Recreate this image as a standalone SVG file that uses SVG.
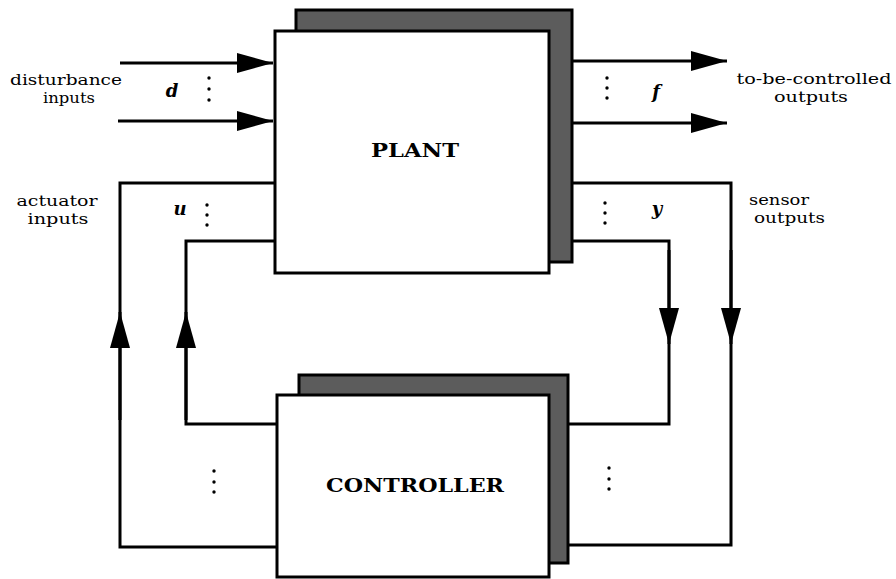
<svg xmlns="http://www.w3.org/2000/svg" width="896" height="579" viewBox="0 0 896 579">
<defs>
<style>
.ln{fill:none;stroke:#000;stroke-width:3}
.box{fill:#fff;stroke:#000;stroke-width:3}
.sh{fill:#5c5c5c;stroke:#000;stroke-width:3}
.lbl{font-family:"DejaVu Serif","Liberation Serif",serif;font-size:15px;fill:#000}
.big{font-family:"DejaVu Serif","Liberation Serif",serif;font-size:19px;font-weight:bold;fill:#000}
.var{font-family:"DejaVu Serif","Liberation Serif",serif;font-size:18px;font-style:italic;font-weight:bold;fill:#000}
.dot{fill:#000}
</style>
<marker id="ah" viewBox="0 0 36 20" refX="36" refY="10" markerWidth="36" markerHeight="20" markerUnits="userSpaceOnUse" orient="auto">
<path d="M0,0 L36,10 L0,20 Z" fill="#000"/>
</marker>
</defs>
<rect width="896" height="579" fill="#fff"/>
<g id="connectors">
<path class="ln" d="M120,63 H273" marker-end="url(#ah)"/>
<path class="ln" d="M118,121 H273" marker-end="url(#ah)"/>
<path class="ln" d="M572,61 H727" marker-end="url(#ah)"/>
<path class="ln" d="M572,123 H727" marker-end="url(#ah)"/>
<path class="ln" d="M275,183 H120 V547 H277"/>
<path class="ln" d="M120,420 V312" marker-end="url(#ah)"/>
<path class="ln" d="M275,241 H186 V424 H277"/>
<path class="ln" d="M186,420 V312" marker-end="url(#ah)"/>
<path class="ln" d="M572,183 H731 V545 H568"/>
<path class="ln" d="M731,250 V344" marker-end="url(#ah)"/>
<path class="ln" d="M572,241 H669 V424 H568"/>
<path class="ln" d="M669,250 V344" marker-end="url(#ah)"/>
</g>
<g id="plant">
<rect class="sh" x="296" y="10" width="276" height="252"/>
<rect class="box" x="275" y="31" width="274" height="242"/>
<text class="big" x="415" y="157" text-anchor="middle" textLength="88" lengthAdjust="spacingAndGlyphs">PLANT</text>
</g>
<g id="controller">
<rect class="sh" x="299" y="375" width="269" height="188"/>
<rect class="box" x="277" y="395" width="272" height="182"/>
<text class="big" x="415" y="492" text-anchor="middle" textLength="178" lengthAdjust="spacingAndGlyphs">CONTROLLER</text>
</g>
<g id="labels">
<text class="lbl" x="66" y="85" text-anchor="middle" textLength="112" lengthAdjust="spacingAndGlyphs">disturbance</text>
<text class="lbl" x="69" y="103" text-anchor="middle" textLength="52" lengthAdjust="spacingAndGlyphs">inputs</text>
<text class="lbl" x="57" y="206" text-anchor="middle" textLength="81" lengthAdjust="spacingAndGlyphs">actuator</text>
<text class="lbl" x="58" y="224" text-anchor="middle" textLength="61" lengthAdjust="spacingAndGlyphs">inputs</text>
<text class="lbl" x="814" y="84" text-anchor="middle" textLength="155" lengthAdjust="spacingAndGlyphs">to-be-controlled</text>
<text class="lbl" x="811" y="102" text-anchor="middle" textLength="74" lengthAdjust="spacingAndGlyphs">outputs</text>
<text class="lbl" x="749" y="205" textLength="60" lengthAdjust="spacingAndGlyphs">sensor</text>
<text class="lbl" x="754" y="223" textLength="71" lengthAdjust="spacingAndGlyphs">outputs</text>
<text class="var" x="172" y="97" text-anchor="middle">d</text>
<text class="var" x="180" y="215" text-anchor="middle">u</text>
<text class="var" x="656" y="98" text-anchor="middle">f</text>
<text class="var" x="657" y="215" text-anchor="middle">y</text>
</g>
<g id="dots">
<circle class="dot" cx="209" cy="78" r="1.7"/><circle class="dot" cx="209" cy="89" r="1.7"/><circle class="dot" cx="209" cy="100" r="1.7"/>
<circle class="dot" cx="207" cy="205" r="1.7"/><circle class="dot" cx="207" cy="215" r="1.7"/><circle class="dot" cx="207" cy="225" r="1.7"/>
<circle class="dot" cx="607" cy="78" r="1.7"/><circle class="dot" cx="607" cy="88" r="1.7"/><circle class="dot" cx="607" cy="98" r="1.7"/>
<circle class="dot" cx="605" cy="203" r="1.7"/><circle class="dot" cx="605" cy="213" r="1.7"/><circle class="dot" cx="605" cy="223" r="1.7"/>
<circle class="dot" cx="214" cy="471" r="1.7"/><circle class="dot" cx="214" cy="482" r="1.7"/><circle class="dot" cx="214" cy="492" r="1.7"/>
<circle class="dot" cx="609" cy="468" r="1.7"/><circle class="dot" cx="609" cy="479" r="1.7"/><circle class="dot" cx="609" cy="489" r="1.7"/>
</g>
</svg>
